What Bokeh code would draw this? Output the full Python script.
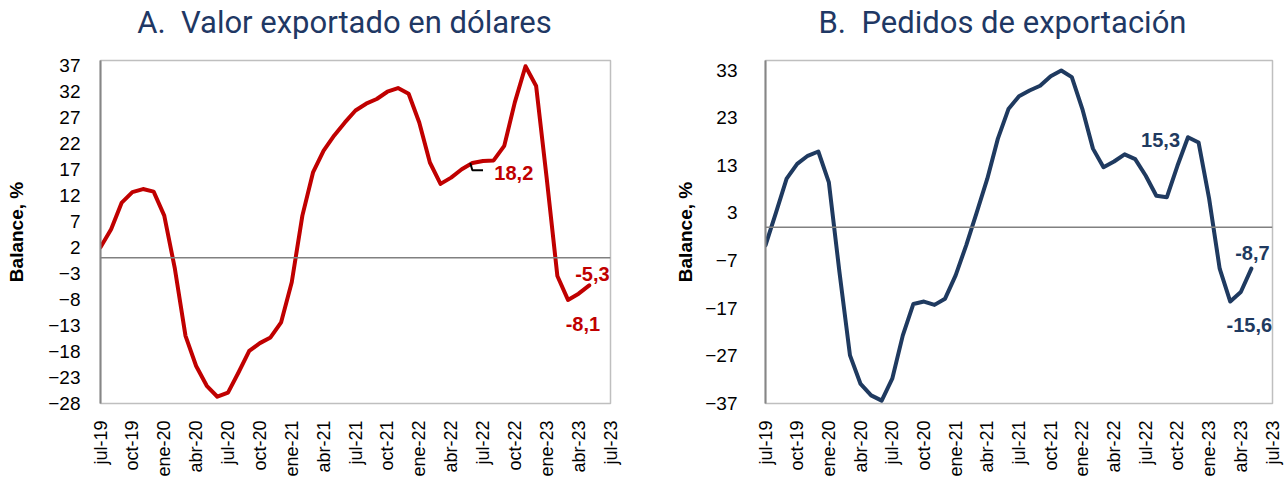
import math
from bokeh.plotting import figure
from bokeh.layouts import row, column
from bokeh.models import Range1d, FixedTicker, Span, ColumnDataSource
from bokeh.core.properties import value
from bokeh.embed import file_html
from bokeh.resources import INLINE

# ---------------- data ----------------
months = list(range(47))  # jul-19 ... may-23 (monthly index)
tick_labels = ["jul-19", "oct-19", "ene-20", "abr-20", "jul-20", "oct-20", "ene-21",
               "abr-21", "jul-21", "oct-21", "ene-22", "abr-22", "jul-22", "oct-22",
               "ene-23", "abr-23", "jul-23"]

valor_exportado = [2.0, 5.5, 10.6, 12.6, 13.2, 12.7, 8.1, -2.1, -15.0, -20.8, -24.6, -26.7,
                   -25.9, -22.0, -17.9, -16.4, -15.3, -12.4, -4.7, 8.1, 16.4, 20.6, 23.5, 26.0,
                   28.3, 29.6, 30.5, 31.9, 32.6, 31.5, 26.0, 18.3, 14.2, 15.4, 17.0, 18.2,
                   18.6, 18.7, 21.5, 29.9, 36.8, 33.0, 15.2, -3.5, -8.1, -6.9, -5.3]

pedidos = [-3.8, 3.1, 10.2, 13.3, 15.0, 15.9, 9.4, -9.4, -26.9, -32.9, -35.3, -36.4,
           -31.8, -22.7, -16.1, -15.6, -16.3, -15.0, -10.1, -3.8, 3.1, 10.2, 18.6, 24.8,
           27.5, 28.7, 29.7, 31.7, 32.9, 31.5, 24.8, 16.5, 12.6, 13.8, 15.3, 14.3,
           10.8, 6.6, 6.3, 12.9, 18.9, 17.8, 6.0, -8.7, -15.6, -13.6, -8.7]

yticks_a = [-28, -23, -18, -13, -8, -3, 2, 7, 12, 17, 22, 27, 32, 37]
yticks_b = [-37, -27, -17, -7, 3, 13, 23, 33]

titles = ["A.\u00a0\u00a0Valor exportado en dólares", "B.\u00a0\u00a0Pedidos de exportación"]

RED = "#C00000"
NAVY = "#1F3A60"
TITLE = "#1F3864"
TICKFONT = "Liberation Sans"
TITLE_H = 46
FRAME_TOP = 60


def make_fig(width, left, right, y_lo, y_hi, yticks, ys, color,
             label_standoff, axis_label_standoff):
    p = figure(width=width, height=483 - TITLE_H, output_backend="svg",
               toolbar_location=None, min_border_left=left, min_border_right=right,
               min_border_top=FRAME_TOP - TITLE_H, min_border_bottom=80,
               x_range=Range1d(0, 48), y_range=Range1d(y_lo, y_hi))

    p.grid.visible = False
    p.outline_line_color = "#BFBFBF"
    p.outline_line_width = 1.5
    p.background_fill_color = "white"
    p.border_fill_color = "white"

    xt = [3 * k for k in range(len(tick_labels))]
    p.xaxis.ticker = FixedTicker(ticks=xt)
    p.xaxis.major_label_overrides = {t: lab for t, lab in zip(xt, tick_labels)}
    p.xaxis.major_label_orientation = math.pi / 2
    p.xaxis.major_label_text_font = TICKFONT
    p.xaxis.major_label_text_font_size = "18px"
    p.xaxis.major_label_text_color = "black"
    p.xaxis.major_label_standoff = 11
    p.xaxis.axis_line_color = None
    p.xaxis.major_tick_line_color = None
    p.xaxis.minor_tick_line_color = None

    p.yaxis.ticker = FixedTicker(ticks=yticks)
    p.yaxis.major_label_text_font = TICKFONT
    p.yaxis.major_label_text_font_size = "19px"
    p.yaxis.major_label_text_color = "black"
    p.yaxis.major_label_standoff = label_standoff
    p.yaxis.axis_line_color = "#868686"
    p.yaxis.axis_line_width = 2
    p.yaxis.major_tick_line_color = None
    p.yaxis.minor_tick_line_color = None
    p.yaxis.axis_label = "Balance, %"
    p.yaxis.axis_label_text_font = TICKFONT
    p.yaxis.axis_label_text_font_size = "19px"
    p.yaxis.axis_label_text_font_style = "bold"
    p.yaxis.axis_label_text_color = "black"
    p.yaxis.axis_label_standoff = axis_label_standoff

    p.add_layout(Span(location=0, dimension="width", line_color="#808080", line_width=1.5))
    src = ColumnDataSource(dict(x=months, y=ys))
    p.line("x", "y", source=src, line_color=color, line_width=4, line_join="round",
           line_cap="round")
    return p


def add_label(p, x, y, txt, color, align="center"):
    p.text(x=[x], y=[y], text=[txt], text_color=color, text_font=value("Liberation Sans"),
           text_font_size="20px", text_font_style="bold", text_align=align,
           text_baseline="middle")


# title strip (pixel coordinates, y downwards)
pt = figure(width=1286, height=TITLE_H, output_backend="svg", toolbar_location=None,
            x_range=Range1d(0, 1286), y_range=Range1d(TITLE_H, 0),
            min_border=0, x_axis_type=None, y_axis_type=None)
pt.grid.visible = False
pt.outline_line_color = None
pt.text(x=[344, 1002], y=[22, 22], text=titles, text_color=TITLE,
        text_font=value("Roboto"), text_font_size="31px", text_align="center",
        text_baseline="middle")

pa = make_fig(640, 100, 30, -28, 37.9, yticks_a, valor_exportado, RED, 14, 18)
pb = make_fig(646, 125, 14, -37, 35, yticks_b, pedidos, NAVY, 22, 6)

# annotations (panel A)
i182 = valor_exportado.index(18.2)
pa.line(x=[i182 - 0.2, i182, i182 + 1.0], y=[18.2, 16.8, 16.8], line_color="black",
        line_width=2)
add_label(pa, i182 + 3.9, 16.3, "18,2", RED)
add_label(pa, months[-1] + 0.3, -3.1, "-5,3", RED)
add_label(pa, months[-1] - 0.6, -12.7, "-8,1", RED)

# annotations (panel B)
add_label(pb, 37.4, 18.4, "15,3", NAVY)
add_label(pb, months[-1] + 0.1, -5.5, "-8,7", NAVY)
add_label(pb, months[-1] - 0.2, -20.6, "-15,6", NAVY)

layout = column(pt, row(pa, pb, spacing=0), spacing=0)
open("out.html", "w").write(file_html(layout, INLINE))
